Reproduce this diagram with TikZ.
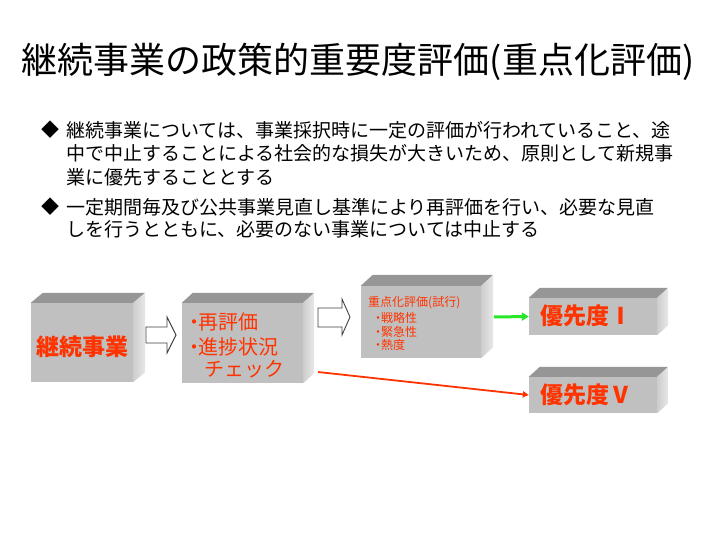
\documentclass[tikz,border=0pt]{standalone}
\usepackage{fontspec}
\newfontfamily\jp{Noto Sans CJK JP}
\usetikzlibrary{arrows.meta}
\definecolor{frontgray}{RGB}{192,192,192}
\definecolor{topgray}{RGB}{150,150,150}
\definecolor{sidea}{RGB}{205,205,205}
\definecolor{sideb}{RGB}{232,232,232}
\definecolor{boxred}{RGB}{255,51,0}
\definecolor{arrowgreen}{RGB}{40,230,40}
\definecolor{outline}{RGB}{64,64,64}
\newcommand\cubefaces[3]{%
  \fill[topgray] (#1.north west) -- ++(#2,-#3) -- ([shift={(#2,-#3)}]#1.north east) -- (#1.north east) -- cycle;
  \shade[left color=sidea,right color=sideb] (#1.north east) -- ++(#2,-#3) -- ([shift={(#2,-#3)}]#1.south east) -- (#1.south east) -- cycle;}
\tikzset{
  cubefront/.style={rectangle, fill=frontgray, inner sep=0pt, draw=none},
  blockarrow/.style={draw=outline, fill=white, line width=0.9pt, line join=miter},
  bigred/.style={text=boxred, inner sep=0pt, font=\jp\bfseries\fontsize{23}{23}\selectfont},
  midred/.style={text=boxred, inner sep=0pt, anchor=west, font=\jp\fontsize{20}{20}\selectfont},
  smallred/.style={text=boxred, inner sep=0pt, anchor=west, font=\jp\fontsize{12}{12}\selectfont},
  bodytext/.style={inner sep=0pt, anchor=west, font=\jp\fontsize{19}{19}\selectfont},
  greenarrow/.style={draw=arrowgreen, line width=3pt, -{Triangle[length=7pt,width=8pt]}},
  redarrow/.style={draw=boxred, line width=1.8pt, -{Triangle[length=6pt,width=6pt]}}
}
\begin{document}
\begin{tikzpicture}[x=1pt,y=-1pt]
\useasboundingbox (0,0) rectangle (720,540);
\fill[white] (0,0) rectangle (720,540);

% title
\node[inner sep=0pt, font=\jp\fontsize{36}{36}\selectfont] (title) at (358,62) {継続事業の政策的重要度評価(重点化評価)};

% bullets
\node[inner sep=0pt, font=\jp\fontsize{18}{18}\selectfont] (d1) at (50,130) {◆};
\node[bodytext] (l1) at (66,130) {継続事業については、事業採択時に一定の評価が行われていること、途};
\node[bodytext] (l2) at (66,153) {中で中止することによる社会的な損失が大きいため、原則として新規事};
\node[bodytext] (l3) at (66,177) {業に優先することとする};
\node[inner sep=0pt, font=\jp\fontsize{18}{18}\selectfont] (d2) at (50,207) {◆};
\node[bodytext] (l4) at (66,207) {一定期間毎及び公共事業見直し基準により再評価を行い、必要な見直};
\node[bodytext] (l5) at (66,229) {しを行うとともに、必要のない事業については中止する};

% cubes
\node[cubefront, minimum width=102pt, minimum height=79pt] (b1) at (82,342.5) {};
\cubefaces{b1}{12}{10}
\node[cubefront, minimum width=121pt, minimum height=80pt] (b2) at (242.5,343) {};
\cubefaces{b2}{11}{10}
\node[cubefront, minimum width=120pt, minimum height=72pt] (b3) at (421,322) {};
\cubefaces{b3}{12}{11}
\node[cubefront, minimum width=128pt, minimum height=37pt] (b4) at (593,316.5) {};
\cubefaces{b4}{11}{10}
\node[cubefront, minimum width=128pt, minimum height=36pt] (b5) at (593,395) {};
\cubefaces{b5}{11}{10}

% texts in cubes
\node[bigred] (t1) at (82,347) {継続事業};
\node[midred] (t2a) at (184,322) {・\kern-6pt 再評価};
\node[midred] (t2b) at (184,347) {・\kern-6pt 進捗状況};
\node[midred] (t2c) at (204,369) {チェック};
\node[smallred] (t3a) at (368,303) {重点化評価(試行)};
\node[smallred] (t3b) at (372,318) {・\kern-3pt 戦略性};
\node[smallred] (t3c) at (372,332) {・\kern-3pt 緊急性};
\node[smallred] (t3d) at (372,345) {・\kern-3pt 熱度};
\node[bigred] (t4) at (586,316) {優先度Ⅰ};
\node[bigred] (t5) at (586,395) {優先度Ⅴ};

% block arrows
\draw[blockarrow] (146,327) -- (167,327) -- (167,317) -- (176,335) -- (167,353) -- (167,343) -- (146,343) -- cycle;
\draw[blockarrow] (318,308) -- (342,308) -- (342,299) -- (350,317) -- (342,335) -- (342,327) -- (318,327) -- cycle;

% connectors
\coordinate (g0) at (494,317);
\draw[greenarrow] (g0) -- (b4.west);
\coordinate (r0) at (318,372);
\draw[redarrow] (r0) -- (b5.west);
\end{tikzpicture}
\end{document}
